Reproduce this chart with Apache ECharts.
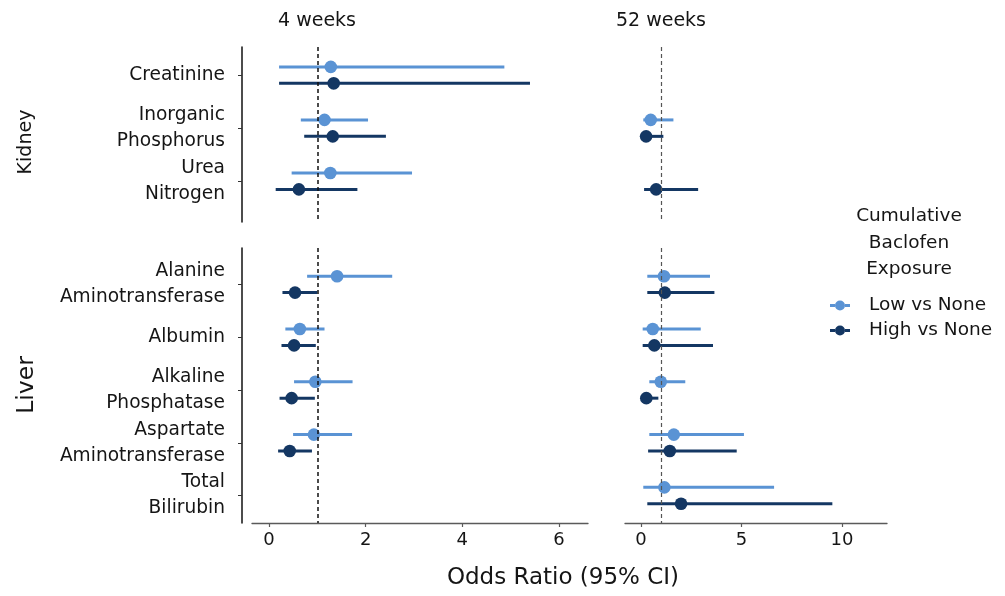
<!DOCTYPE html>
<html>
<head>
<meta charset="utf-8">
<script src="https://cdn.jsdelivr.net/npm/echarts@6/dist/echarts.min.js"></script>
<style>html,body{margin:0;padding:0;background:#fff}#c{width:1005px;height:596px}</style>
</head>
<body>
<div id="c"></div>
<script>
// ---- data ----
const kidneyCats = ['Creatinine', 'Inorganic\nPhosphorus', 'Urea\nNitrogen'];
const liverCats = ['Alanine\nAminotransferase', 'Albumin', 'Alkaline\nPhosphatase', 'Aspartate\nAminotransferase', 'Total\nBilirubin'];
const seriesNames = ['Low vs None', 'High vs None'];
const periods = ['4 weeks', '52 weeks'];
const refLine = 1;
const ticks4 = [0, 2, 4, 6];
const ticks52 = [0, 5, 10];
// [lower, estimate, upper] per category (null = not estimated)
const kidney4Low  = [[0.21, 1.28, 4.87], [0.66, 1.15, 2.05], [0.47, 1.27, 2.96]];
const kidney4High = [[0.21, 1.34, 5.40], [0.73, 1.32, 2.42], [0.14, 0.62, 1.83]];
const kidney52Low  = [null, [0.11, 0.48, 1.61], null];
const kidney52High = [null, [0.12, 0.25, 1.11], [0.15, 0.75, 2.84]];
const liver4Low  = [[0.79, 1.41, 2.55], [0.34, 0.64, 1.15], [0.52, 0.96, 1.73], [0.50, 0.93, 1.72], null];
const liver4High = [[0.28, 0.54, 1.00], [0.26, 0.52, 0.97], [0.22, 0.47, 0.95], [0.19, 0.43, 0.89], null];
const liver52Low  = [[0.31, 1.14, 3.43], [0.08, 0.58, 2.97], [0.41, 0.98, 2.20], [0.41, 1.63, 5.12], [0.11, 1.16, 6.62]];
const liver52High = [[0.31, 1.18, 3.65], [0.08, 0.66, 3.58], [0.10, 0.26, 0.86], [0.35, 1.43, 4.76], [0.31, 1.99, 9.52]];

// ---- styling ----
const FONT = 'DejaVu Sans';
const TXT = '#151515';
const colors = ['#5a93d4', '#143763'];
const dodge = [-0.155, 0.155];

function toRows(arr) {
  const out = [];
  arr.forEach((d, i) => { if (d) out.push([i, d[0], d[1], d[2]]); });
  return out;
}

function makeRender(k) {
  return function (params, api) {
    const y = api.value(0) + dodge[k];
    const a = api.coord([api.value(1), y]);
    const b = api.coord([api.value(3), y]);
    const c = api.coord([api.value(2), y]);
    return {
      type: 'group',
      children: [
        { type: 'line', shape: { x1: a[0], y1: a[1], x2: b[0], y2: b[1] }, style: { stroke: colors[k], lineWidth: 3 } },
        { type: 'circle', shape: { cx: c[0], cy: c[1], r: 6.3 }, style: { fill: colors[k] } }
      ]
    };
  };
}

const panels = [
  { grid: { left: 252, top: 47, width: 336, height: 175 }, cats: kidneyCats, x: [-0.35, 6.6], ticks: ticks4, ymin: -0.53, ymax: 2.77, data: [kidney4Low, kidney4High], leftCol: true, bottom: false },
  { grid: { left: 625, top: 47, width: 262, height: 175 }, cats: kidneyCats, x: [-0.8, 12.24], ticks: ticks52, ymin: -0.53, ymax: 2.77, data: [kidney52Low, kidney52High], leftCol: false, bottom: false },
  { grid: { left: 252, top: 248, width: 336, height: 275 }, cats: liverCats, x: [-0.35, 6.6], ticks: ticks4, ymin: -0.69, ymax: 4.52, data: [liver4Low, liver4High], leftCol: true, bottom: true },
  { grid: { left: 625, top: 248, width: 262, height: 275 }, cats: liverCats, x: [-0.8, 12.24], ticks: ticks52, ymin: -0.69, ymax: 4.52, data: [liver52Low, liver52High], leftCol: false, bottom: true }
];

const grid = [], xAxis = [], yAxis = [], series = [];
panels.forEach((p, gi) => {
  grid.push(Object.assign({ containLabel: false }, p.grid));
  const catIdx = p.cats.map((_, i) => i);
  xAxis.push({
    type: 'value', gridIndex: gi, min: p.x[0], max: p.x[1],
    show: p.bottom, position: 'bottom',
    splitLine: { show: false },
    axisLine: { show: true, onZero: false, lineStyle: { color: '#5a5a5a', width: 1.3 } },
    axisTick: { show: true, length: 4, customValues: p.ticks, lineStyle: { color: '#5a5a5a', width: 1.2 } },
    axisLabel: { customValues: p.ticks, fontFamily: FONT, fontSize: 18, color: TXT, margin: 8 }
  });
  yAxis.push({
    type: 'value', gridIndex: gi, inverse: true, min: p.ymin, max: p.ymax,
    show: p.leftCol, offset: 10, position: 'left',
    splitLine: { show: false },
    axisLine: { show: true, onZero: false, lineStyle: { color: '#111', width: 1.5 } },
    axisTick: { show: true, length: 4, customValues: catIdx, lineStyle: { color: '#333', width: 1 } },
    axisLabel: {
      customValues: catIdx, fontFamily: FONT, fontSize: 18.6, color: TXT, margin: 17, lineHeight: 26,
      formatter: (v) => p.cats[Math.round(v)]
    }
  });
  [0, 1].forEach((k) => {
    const s = {
      type: 'custom', name: seriesNames[k], xAxisIndex: gi, yAxisIndex: gi,
      itemStyle: { color: colors[k] },
      renderItem: makeRender(k),
      encode: { x: [1, 2, 3], y: 0 },
      data: toRows(p.data[k]),
      silent: true, animation: false, z: 3
    };
    if (k === 0) {
      s.markLine = {
        silent: true, symbol: ['none', 'none'], label: { show: false }, animation: false,
        lineStyle: { type: [4, 3], color: p.leftCol ? '#111' : '#555', width: p.leftCol ? 1.5 : 1.2 },
        data: [{ xAxis: refLine }]
      };
    }
    series.push(s);
  });
});

const iconPath = 'path://M0,4.5L5,4.5L5,7.5L0,7.5Z M15,4.5L20,4.5L20,7.5L15,7.5Z M5,6A5,5 0 1 0 15,6A5,5 0 1 0 5,6Z';

const graphic = [
  { type: 'text', style: { text: periods[0], x: 317, y: 21, align: 'center', verticalAlign: 'middle', fontFamily: FONT, fontSize: 19, fill: TXT } },
  { type: 'text', style: { text: periods[1], x: 661, y: 21, align: 'center', verticalAlign: 'middle', fontFamily: FONT, fontSize: 19, fill: TXT } },
  { type: 'text', style: { text: 'Odds Ratio (95% CI)', x: 563, y: 578, align: 'center', verticalAlign: 'middle', fontFamily: FONT, fontSize: 23, fill: TXT } },
  { type: 'text', x: 26, y: 142, rotation: Math.PI / 2, style: { text: 'Kidney', x: 0, y: 0, align: 'center', verticalAlign: 'middle', fontFamily: FONT, fontSize: 19, fill: TXT } },
  { type: 'text', x: 27, y: 385, rotation: Math.PI / 2, style: { text: 'Liver', x: 0, y: 0, align: 'center', verticalAlign: 'middle', fontFamily: FONT, fontSize: 23.5, fill: TXT } },
  { type: 'text', style: { text: 'Cumulative\nBaclofen\nExposure', x: 909, y: 243, align: 'center', verticalAlign: 'middle', fontFamily: FONT, fontSize: 18.5, lineHeight: 26.5, fill: TXT } }
];

const chart = echarts.init(document.getElementById('c'), null, { renderer: 'canvas' });
chart.setOption({
  animation: false,
  backgroundColor: '#fff',
  grid, xAxis, yAxis, series, graphic,
  legend: {
    data: seriesNames.map((n, i) => ({ name: n, icon: iconPath, itemStyle: { color: colors[i] } })),
    orient: 'vertical', left: 825, top: 291,
    itemWidth: 20, itemHeight: 12, itemGap: 6,
    selectedMode: false,
    textStyle: { fontFamily: FONT, fontSize: 18.5, color: TXT, lineHeight: 18, padding: [0, 0, 0, 14] }
  }
});
</script>
</body>
</html>
